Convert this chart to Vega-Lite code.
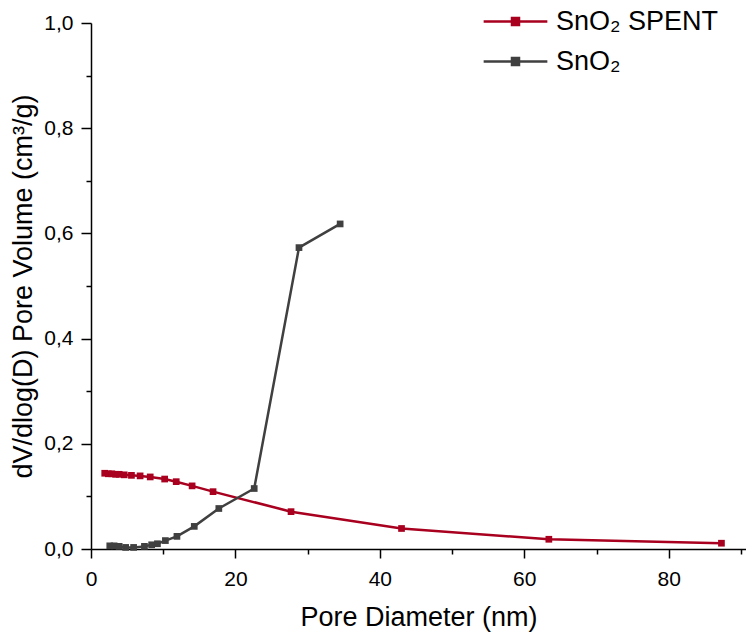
{
  "$schema": "https://vega.github.io/schema/vega-lite/v6.json",
  "width": 655,
  "height": 526,
  "autosize": {"type": "none"},
  "padding": {"left": 91, "top": 23, "right": 0, "bottom": 85},
  "background": "white",
  "config": {
    "view": {"stroke": null},
    "font": "Liberation Sans",
    "axis": {
      "domainColor": "black",
      "domainWidth": 1.5,
      "tickColor": "black",
      "tickWidth": 1.5,
      "grid": false,
      "labelFont": "Liberation Sans",
      "labelFontSize": 21,
      "labelColor": "black",
      "titleFont": "Liberation Sans",
      "titleFontSize": 27,
      "titleFontWeight": "normal",
      "titleColor": "black"
    }
  },
  "data": {
    "values": [
      {"series": "SnO₂ SPENT", "d": 1.9, "v": 0.144},
      {"series": "SnO₂ SPENT", "d": 2.4, "v": 0.143},
      {"series": "SnO₂ SPENT", "d": 2.9, "v": 0.143},
      {"series": "SnO₂ SPENT", "d": 3.4, "v": 0.142},
      {"series": "SnO₂ SPENT", "d": 3.9, "v": 0.142},
      {"series": "SnO₂ SPENT", "d": 4.6, "v": 0.141},
      {"series": "SnO₂ SPENT", "d": 5.6, "v": 0.140},
      {"series": "SnO₂ SPENT", "d": 6.8, "v": 0.139},
      {"series": "SnO₂ SPENT", "d": 8.2, "v": 0.137},
      {"series": "SnO₂ SPENT", "d": 10.2, "v": 0.133},
      {"series": "SnO₂ SPENT", "d": 11.8, "v": 0.128},
      {"series": "SnO₂ SPENT", "d": 14.0, "v": 0.120},
      {"series": "SnO₂ SPENT", "d": 16.9, "v": 0.109},
      {"series": "SnO₂ SPENT", "d": 27.7, "v": 0.071},
      {"series": "SnO₂ SPENT", "d": 43.0, "v": 0.039},
      {"series": "SnO₂ SPENT", "d": 63.4, "v": 0.0185},
      {"series": "SnO₂ SPENT", "d": 87.3, "v": 0.011},
      {"series": "SnO₂", "d": 2.6, "v": 0.006},
      {"series": "SnO₂", "d": 3.2, "v": 0.006},
      {"series": "SnO₂", "d": 3.9, "v": 0.005},
      {"series": "SnO₂", "d": 4.8, "v": 0.003},
      {"series": "SnO₂", "d": 5.9, "v": 0.003},
      {"series": "SnO₂", "d": 7.4, "v": 0.005},
      {"series": "SnO₂", "d": 8.4, "v": 0.008},
      {"series": "SnO₂", "d": 9.2, "v": 0.010},
      {"series": "SnO₂", "d": 10.3, "v": 0.016},
      {"series": "SnO₂", "d": 11.9, "v": 0.024},
      {"series": "SnO₂", "d": 14.3, "v": 0.043},
      {"series": "SnO₂", "d": 17.7, "v": 0.077},
      {"series": "SnO₂", "d": 22.6, "v": 0.115},
      {"series": "SnO₂", "d": 28.8, "v": 0.573},
      {"series": "SnO₂", "d": 34.5, "v": 0.618}
    ]
  },
  "mark": {
    "type": "line",
    "strokeWidth": 2.5,
    "point": {"shape": "square", "filled": true, "size": 45, "opacity": 1}
  },
  "encoding": {
    "x": {
      "field": "d",
      "type": "quantitative",
      "scale": {"domain": [0, 90.7], "nice": false, "zero": false},
      "axis": {
        "title": "Pore Diameter (nm)",
        "values": [0, 10, 20, 30, 40, 50, 60, 70, 80, 90],
        "labelExpr": "datum.value % 20 === 0 ? datum.label : ''",
        "tickSize": {"condition": {"test": "datum.value % 20 === 0", "value": 9}, "value": 5},
        "labelPadding": 10,
        "labelFlush": false,
        "labelOverlap": false,
        "titlePadding": 15
      }
    },
    "y": {
      "field": "v",
      "type": "quantitative",
      "scale": {"domain": [0, 1], "nice": false},
      "axis": {
        "title": "dV/dlog(D) Pore Volume (cm³/g)",
        "values": [0, 0.1, 0.2, 0.3, 0.4, 0.5, 0.6, 0.7, 0.8, 0.9, 1.0],
        "labelExpr": "round(datum.value * 10) % 2 === 0 ? replace(format(datum.value, '.1f'), '.', ',') : ''",
        "tickSize": {"condition": {"test": "round(datum.value * 10) % 2 === 0", "value": 10}, "value": 5},
        "labelPadding": 8,
        "labelFlush": false,
        "labelOverlap": false,
        "titlePadding": 6
      }
    },
    "color": {
      "field": "series",
      "type": "nominal",
      "scale": {"domain": ["SnO₂ SPENT", "SnO₂"], "range": ["#A8001E", "#404040"]},
      "legend": {
        "title": null,
        "orient": "none",
        "legendX": 411,
        "legendY": -15,
        "symbolType": "M-9.1,0L9.1,0M-1,-1L1,-1L1,1L-1,1Z",
        "symbolSize": 49,
        "symbolStrokeWidth": 2.5,
        "labelFont": "Liberation Sans",
        "labelFontSize": 27,
        "labelLimit": 0,
        "labelColor": "black",
        "labelOffset": 27,
        "rowPadding": 12,
        "encode": {
          "symbols": {
            "update": {
              "fill": {"scale": "color", "field": "value"},
              "stroke": {"scale": "color", "field": "value"},
              "opacity": {"value": 1}
            }
          }
        }
      }
    }
  }
}
